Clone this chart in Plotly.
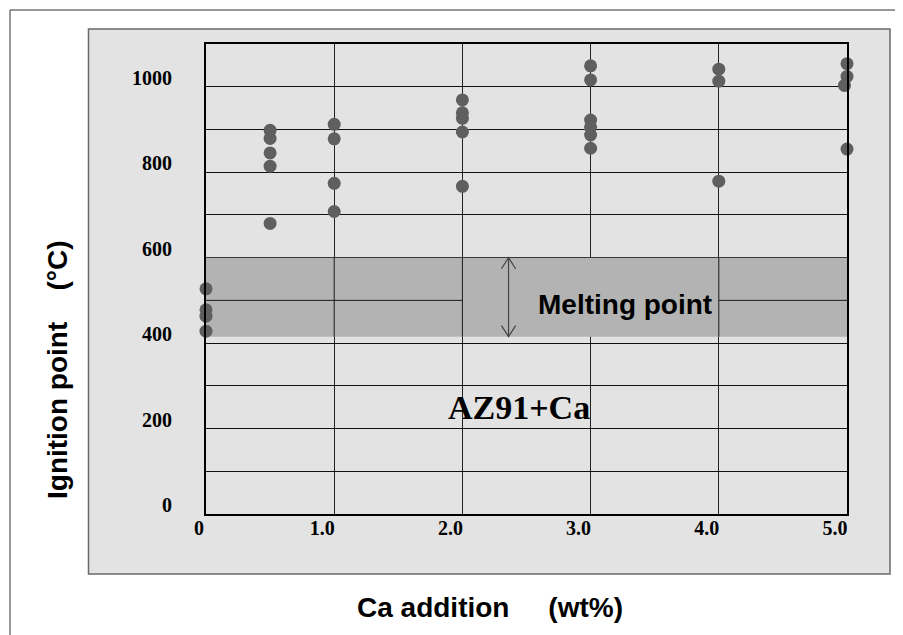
import plotly.graph_objects as go

# ---------------- data ----------------
ca_0 = [0, 0, 0, 0]
ig_0 = [527, 478, 463, 428]
ca_05 = [0.5, 0.5, 0.5, 0.5, 0.5]
ig_05 = [898, 879, 845, 814, 680]
ca_1 = [1.0, 1.0, 1.0, 1.0]
ig_1 = [912, 878, 774, 708]
ca_2 = [2.0, 2.0, 2.0, 2.0, 2.0]
ig_2 = [969, 939, 926, 894, 767]
ca_3 = [3.0, 3.0, 3.0, 3.0, 3.0, 3.0]
ig_3 = [1049, 1016, 922, 905, 887, 856]
ca_4 = [4.0, 4.0, 4.0]
ig_4 = [1041, 1013, 779]
ca_5 = [5.0, 5.0, 4.98, 5.0]
ig_5 = [1054, 1024, 1003, 854]

x_tick_vals = [0, 1, 2, 3, 4, 5]
x_tick_text = ["\u00a0\u00a00", "1.0", "2.0", "3.0", "4.0", "5.0"]
y_tick_vals = [0, 100, 200, 300, 400, 500, 600, 700, 800, 900, 1000, 1100]
y_tick_text = ["0", "", "200", "", "400", "", "600", "", "800", "", "1000", ""]

melt_low = 415
melt_high = 600
arrow_x = 2.36

ca_all = ca_0 + ca_05 + ca_1 + ca_2 + ca_3 + ca_4 + ca_5
ig_all = ig_0 + ig_05 + ig_1 + ig_2 + ig_3 + ig_4 + ig_5

# ---------------- figure ----------------
W, H = 903, 635
OFF = 8  # page body margin offset
L, T = 206 - OFF, 44 - OFF
R = W - (847 - OFF)
B = H - (514 - OFF)
pw, ph = W - L - R, H - T - B

def px_x(p):
    return (p - OFF - L) / pw

def px_y(p):
    return (H - B - (p - OFF)) / ph

fig = go.Figure()
fig.add_trace(go.Scatter(
    x=ca_all, y=ig_all, mode="markers",
    marker=dict(symbol="circle", size=13, color="#5f5f5f", line=dict(width=0)),
    cliponaxis=False, showlegend=False, hoverinfo="x+y",
))

shapes = []
# outer page frame lines
shapes.append(dict(type="line", xref="paper", yref="paper",
                   x0=px_x(10), x1=px_x(915), y0=px_y(10), y1=px_y(10),
                   line=dict(color="#333333", width=1), layer="below"))
shapes.append(dict(type="line", xref="paper", yref="paper",
                   x0=px_x(10), x1=px_x(10), y0=px_y(10), y1=px_y(650),
                   line=dict(color="#333333", width=1), layer="below"))
# gray panel
shapes.append(dict(type="rect", xref="paper", yref="paper",
                   x0=px_x(88.5), x1=px_x(890), y0=px_y(574), y1=px_y(29),
                   fillcolor="#e3e3e3", line=dict(color="#6a6a6a", width=1.5),
                   layer="below"))
# melting range band (covers grid)
shapes.append(dict(type="rect", xref="x", yref="y",
                   x0=0, x1=5, y0=melt_low, y1=melt_high,
                   fillcolor="#b3b3b3", line=dict(width=0), layer="between"))
# grid segments that remain visible through the band
for seg in [((0, 500), (2, 500)), ((4, 500), (5, 500)),
            ((1, melt_low), (1, melt_high)), ((2, melt_low), (2, melt_high)),
            ((4, melt_low), (4, melt_high))]:
    (xa, ya), (xb, yb) = seg
    shapes.append(dict(type="line", xref="x", yref="y", x0=xa, y0=ya, x1=xb, y1=yb,
                       line=dict(color="#1a1a1a", width=1), layer="between"))
# double-headed arrow
dx, dy = 0.055, 26
shapes.append(dict(type="line", xref="x", yref="y",
                   x0=arrow_x, x1=arrow_x, y0=melt_low, y1=melt_high,
                   line=dict(color="#444444", width=1.2), layer="between"))
shapes.append(dict(type="path", xref="x", yref="y",
                   path=f"M {arrow_x-dx},{melt_high-dy} L {arrow_x},{melt_high} L {arrow_x+dx},{melt_high-dy}",
                   line=dict(color="#444444", width=1.2), layer="between"))
shapes.append(dict(type="path", xref="x", yref="y",
                   path=f"M {arrow_x-dx},{melt_low+dy} L {arrow_x},{melt_low} L {arrow_x+dx},{melt_low+dy}",
                   line=dict(color="#444444", width=1.2), layer="between"))

annotations = [
    dict(text="<b>Melting point</b>", x=3.27, y=490, xref="x", yref="y",
         xanchor="center", yanchor="middle", showarrow=False,
         font=dict(family="Liberation Sans", size=28, color="#000")),
    dict(text="<b>AZ91+Ca</b>", x=2.44, y=250, xref="x", yref="y",
         xanchor="center", yanchor="middle", showarrow=False,
         font=dict(family="Liberation Serif", size=34, color="#000")),
    dict(text="<b>Ignition point\u00a0\u00a0\u00a0\u00a0(°C)</b>", x=px_x(57), y=px_y(370),
         xref="paper", yref="paper", textangle=-90, showarrow=False,
         xanchor="center", yanchor="middle",
         font=dict(family="Liberation Sans", size=28, color="#000")),
    dict(text="<b>Ca addition\u00a0\u00a0\u00a0\u00a0\u00a0(wt%)</b>", x=px_x(490), y=px_y(607),
         xref="paper", yref="paper", showarrow=False,
         xanchor="center", yanchor="middle",
         font=dict(family="Liberation Sans", size=28, color="#000")),
]

tick_font = dict(family="Liberation Serif", size=20, color="#000", weight="bold")

fig.update_layout(
    width=W, height=H,
    margin=dict(l=L, r=R, t=T, b=B, pad=0),
    paper_bgcolor="white", plot_bgcolor="#e3e3e3",
    shapes=shapes, annotations=annotations, showlegend=False,
    xaxis=dict(range=[0, 5], tickmode="array", tickvals=x_tick_vals, ticktext=x_tick_text,
               showgrid=True, gridcolor="#222222", gridwidth=1,
               showline=True, linecolor="#000", linewidth=2, mirror=True,
               ticks="", zeroline=False, tickfont=tick_font,
               ticklabelshift=-12, ticklabelstandoff=-5, fixedrange=True),
    yaxis=dict(range=[0, 1100], tickmode="array", tickvals=y_tick_vals, ticktext=y_tick_text,
               showgrid=True, gridcolor="#111111", gridwidth=1,
               showline=True, linecolor="#000", linewidth=2, mirror=True,
               ticks="", zeroline=False, tickfont=tick_font,
               ticklabelshift=-9, ticklabelstandoff=28, fixedrange=True),
)

fig.write_html("out.html")
